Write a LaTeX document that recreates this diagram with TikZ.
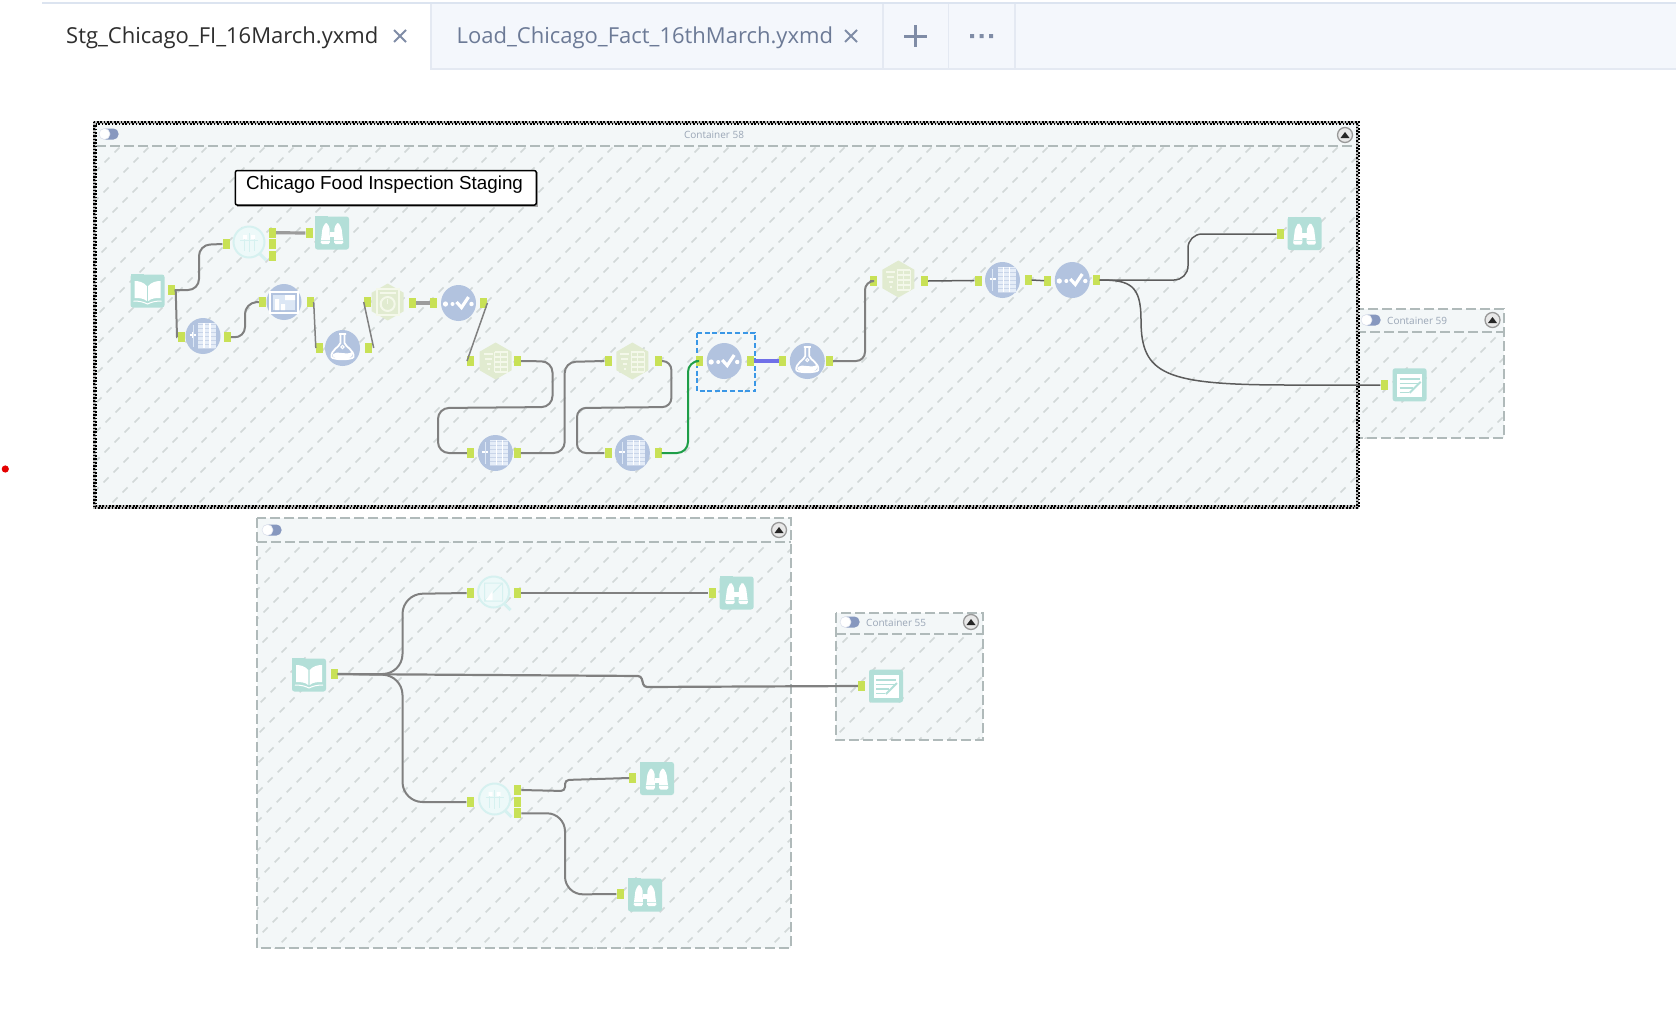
\documentclass[tikz,border=0pt]{standalone}
\usepackage{fontspec}
\setmainfont{Open Sans}
\newfontfamily\arialf{Liberation Sans}
\usetikzlibrary{shapes.geometric}
\definecolor{tabfill}{HTML}{F4F7FC}
\definecolor{tabline}{HTML}{E4E9F2}
\definecolor{tabtop}{HTML}{DCE4F0}
\definecolor{tabtext}{HTML}{6C7A96}
\definecolor{iconx}{HTML}{7F8CA6}
\definecolor{panel}{HTML}{F3F7F8}
\definecolor{hatchc}{HTML}{D2D8D8}
\definecolor{dashc}{HTML}{B0BABA}
\definecolor{teal}{HTML}{B3DFD8}
\definecolor{tealpale}{HTML}{D6F1F0}
\definecolor{tealwash}{HTML}{EDF9F9}
\definecolor{bluet}{HTML}{B2C3DF}
\definecolor{bluepale}{HTML}{DCE7F5}
\definecolor{hexg}{HTML}{E1EBD0}
\definecolor{hexw}{HTML}{F4F8EA}
\definecolor{portc}{HTML}{C8E156}
\definecolor{wirec}{HTML}{808080}
\definecolor{wirelight}{HTML}{9C9C9C}
\definecolor{wiredark}{HTML}{5C5C5C}
\definecolor{toggleb}{HTML}{8798BF}
\definecolor{titlec}{HTML}{9AA6B6}
\definecolor{wirepurp}{HTML}{7070E8}
\definecolor{wiregrn}{HTML}{1E9E48}
\definecolor{selblue}{HTML}{3A97E6}
\tikzset{
  portbox/.style={fill=portc,inner sep=0pt,minimum width=7,minimum height=10},
  wire/.style={draw=wirec,line width=2,rounded corners=11},
  wirethick/.style={draw=wirelight,line width=3.2},
  wirethin/.style={draw=wiredark,line width=1.5,rounded corners=14},
  wirepurple/.style={draw=wirepurp,line width=3.6},
  wiregreen/.style={draw=wiregrn,line width=2,rounded corners=11},
  hatchline/.style={draw=hatchc,line width=1.5,dash pattern=on 7pt off 7.14pt,dash phase=3.5pt},
  cdash/.style={draw=dashc,line width=2,dash pattern=on 10pt off 4pt},
  squaretool/.style={fill=teal,rounded corners=2.5,inner sep=0pt,minimum width=34,minimum height=33},
  magtool/.style={circle,fill=tealwash,draw=tealpale,line width=2,inner sep=0pt,minimum size=31},
  bluetool/.style={ellipse,fill=bluet,inner sep=0pt,minimum width=35,minimum height=36},
  hextool/.style={regular polygon,regular polygon sides=6,shape border rotate=30,fill=hexg,inner sep=0pt,minimum size=37},
  binocg/.pic={
    \fill[teal] (-17,-17) rectangle (-4,-14);
    \fill[white,rounded corners=1.5] (-11.5,11) -- (-9.5,-5) -- (-6,-11) -- (-2.5,-6) -- (-2,11) -- cycle;
    \fill[white,rounded corners=1.5] (11.5,11) -- (9.5,-5) -- (6,-11) -- (2.5,-6) -- (2,11) -- cycle;
    \fill[white] (-2.5,-1) rectangle (2.5,4);
    \draw[teal!70!white,line width=.8] (-11,7) -- (-2,7) (2,7) -- (11,7);
  },
  bookg/.pic={
    \fill[teal] (-17,-17) rectangle (-4,-14);
    \fill[white] (-.7,-5) .. controls (-4,-9) and (-9,-10) .. (-13,-10) -- (-13,7) .. controls (-9,7) and (-4,7) .. (-.7,10) -- cycle;
    \fill[white] (.7,-5) .. controls (4,-9) and (9,-10) .. (13,-10) -- (13,7) .. controls (9,7) and (4,7) .. (.7,10) -- cycle;
    \draw[white,line width=1] (-14,10) .. controls (-8,10) and (-4,11) .. (0,13) .. controls (4,11) and (8,10) .. (14,10);
  },
  noteg/.pic={
    \fill[white] (-12.5,-11) rectangle (12.5,12);
    \draw[teal,line width=1.6] (-10,-6) -- (10,-6) (-10,-1.5) -- (9,-1.5) (-10,3) -- (3,3) (-10,7.5) -- (-1,7.5);
    \draw[teal,line width=2] (0,8) -- (11,-3);
  },
  magag/.pic={
    \draw[tealpale,line width=3] (10,11) -- (17,18);
    \draw[tealpale,line width=1] (-9,-2) -- (9,-2) (-5,-7) -- (-5,9) (0,-9) -- (0,10) (5,-7) -- (5,9);
    \fill[white] (-6,-7) rectangle (-2,-3) (2,-7) rectangle (6,-3);
  },
  magbg/.pic={
    \draw[tealpale,line width=3] (10,11) -- (17,18);
    \draw[tealpale,line width=1] (-9,-9) rectangle (9,9) (-9,9) -- (9,-9);
    \fill[white] (-8,8) -- (-1,-1) -- (-1,8) -- cycle;
  },
  checkg/.pic={
    \fill[white] (-13,1) circle (2.6) (-6,1) circle (2) (13,1) circle (2.2);
    \draw[white,line width=3.2] (-2,-1) -- (3,4.5) -- (10,-6);
  },
  tableg/.pic={
    \fill[bluepale!75!white] (-5,-13) rectangle (13,12);
    \draw[white,line width=1.4] (-13,-1) -- (-7,-1) (-10,-4) -- (-10,2);
    \draw[bluepale,line width=1] (-10,-11) -- (-10,11);
    \foreach \r in {-12,-8,-4,0,4,8,12}{\draw[bluet!70!white,line width=.8] (-5,\r) -- (13,\r);}
    \foreach \c in {1,7}{\draw[white,line width=1.1] (\c,-13) -- (\c,12);}
  },
  chartg/.pic={
    \draw[white,line width=1.5] (-14,-10) rectangle (14,11);
    \fill[bluepale] (-11,-7) rectangle (11,8);
    \fill[white] (-9,8) rectangle (-5,-3) (-3,8) rectangle (1,2) (1,-7) rectangle (11,-2);
  },
  flaskg/.pic={
    \draw[white,line width=1.8,line join=round] (-3.5,-14) -- (3.5,-14) (-2,-14) -- (-2,-5) .. controls (-3,-1) and (-12,2) .. (-11,9) .. controls (-10,12) and (10,12) .. (11,9) .. controls (12,2) and (3,-1) .. (2,-5) -- (2,-14);
    \fill[white] (-9.5,6) .. controls (-5,2) and (3,8) .. (9.5,4) .. controls (11,8) and (9,11) .. (0,11) .. controls (-9,11) and (-11,8) .. (-9.5,6) -- cycle;
    \draw[white,line width=1] (0,-1) circle (1.6);
  },
  hextableg/.pic={
    \foreach \r in {-9,-4,1,6,11}{\draw[hexw,line width=1.5] (-1,\r) -- (12,\r);}
    \foreach \c in {-1,5,12}{\draw[hexw,line width=1.5] (\c,-9) -- (\c,11);}
    \draw[hexw,line width=2] (-12,-7) -- (-3,-7) (-11,-2) -- (-4,-2) (-9,3) -- (-5,3) (-8,8) -- (-6,8);
  },
  hexclockg/.pic={
    \draw[hexw,line width=2] (-11,-13) rectangle (11,13);
    \draw[hexw,line width=2] (0,2) circle (7);
    \draw[hexw,line width=1.4] (0,2) -- (0,-3) (-8,-9) -- (8,-9);
  },
  togglesw/.pic={
    \fill[toggleb,rounded corners=5] (-9.5,-5.5) rectangle (9.5,5.5);
    \fill[white,draw=toggleb!25!white,line width=.6] (-4.5,0) circle (5.5);
  },
  collapseic/.pic={
    \draw[gray!80!white,line width=1.3,fill=gray!18!white] (0,0) circle (7.5);
    \fill[black!85] (-4.5,3) -- (0,-3) -- (4.5,3) -- cycle;
  },
}
\newcommand{\hatcharea}[4]{%
  \begin{scope}
    \clip (#1,#2) rectangle (#3,#4);
    \foreach \k in {0,...,84}{%
      \pgfmathsetmacro\cc{6+29*\k}
      \draw[hatchline] (\cc,0) -- (0,\cc);
    }
  \end{scope}}
\newcommand{\tool}[5]{\node[#1] (#2) at (#4,#5) {}; \pic at (#2.center) {#3};}
\newcommand{\crossmark}[2]{\draw[iconx,line width=2] (#1-6,#2-6) -- (#1+6,#2+6) (#1-6,#2+6) -- (#1+6,#2-6);}
\begin{document}
\begin{tikzpicture}[x=1pt,y=-1pt]
\useasboundingbox (0,0) rectangle (1676,1026);
\fill[white] (0,0) rectangle (1676,1026);
% tab strip
\fill[tabfill] (431,4) rectangle (1676,69);
\draw[tabtop,line width=2] (42,3) -- (1676,3);
\draw[tabline,line width=1.6] (431,4) -- (431,69) -- (1676,69);
\draw[tabline,line width=1.4] (883,4) -- (883,69) (948.6,4) -- (948.6,69) (1015,4) -- (1015,69);
\node[anchor=west,inner sep=0pt,text=black!82] (tabone) at (66,38) {\fontsize{22}{25}\selectfont Stg\_Chicago\_FI\_16March.yxmd};
\crossmark{400}{36}
\node[anchor=west,inner sep=0pt,text=tabtext] (tabtwo) at (456.5,38) {\fontsize{22}{25}\selectfont Load\_Chicago\_Fact\_16thMarch.yxmd};
\crossmark{851}{36}
\draw[iconx,line width=3] (904,36) -- (927,36) (915.6,25) -- (915.6,47);
\fill[iconx] (970,34) rectangle (974,38) (979.5,34) rectangle (983.5,38) (989,34) rectangle (993,38);
\fill[red!90!black] (5.3,469) circle (3.6);
% container 59
\fill[panel] (1356,309) rectangle (1504,438);
\hatcharea{1356}{332}{1504}{438}
\draw[cdash] (1356,309) rectangle (1504,438);
\draw[cdash] (1356,332) -- (1504,332);
\pic at (1371,320) {togglesw};
\node[anchor=west,inner sep=0pt,text=titlec] (title59) at (1387,320.5) {\fontsize{10}{11}\selectfont Container 59};
\pic at (1492.5,320) {collapseic};
% container 55
\fill[panel] (836,612.5) rectangle (982.6,739.5);
\hatcharea{836}{634}{982.6}{739.5}
\draw[cdash] (836,612.5) rectangle (982.6,739.5);
\draw[cdash] (836,634) -- (982.6,634);
\pic at (850,622) {togglesw};
\node[anchor=west,inner sep=0pt,text=titlec] (title55) at (866,622.5) {\fontsize{10}{11}\selectfont Container 55};
\pic at (971,622) {collapseic};
% container lower
\fill[panel] (256.8,518.3) rectangle (790.5,948.3);
\hatcharea{256.8}{542.3}{790.5}{948.3}
\draw[cdash] (256.8,518.3) rectangle (790.5,948.3);
\draw[cdash] (256.8,542.3) -- (790.5,542.3);
\pic at (272,530) {togglesw};
\pic at (779,530) {collapseic};
% container top
\fill[panel] (94.5,122.5) rectangle (1357.5,507);
\hatcharea{94.5}{146}{1357.5}{507}
\draw[cdash] (96,146) -- (1356,146);
\draw[gray!55,line width=3.8] (94.5,122.5) rectangle (1357.5,507);
\draw[black,line width=2,dash pattern=on 1.7pt off 1.7pt] (93.5,121.5) rectangle (1358.5,508);
\draw[black,line width=2,dash pattern=on 1.7pt off 1.7pt,dash phase=1.7pt] (95.5,123.5) rectangle (1356.5,506);
\pic at (109,134) {togglesw};
\node[inner sep=0pt,text=titlec] (title58) at (714,134.5) {\fontsize{10}{11}\selectfont Container 58};
\pic at (1345,135) {collapseic};
% comment box
\fill[gray!70] (236.5,172) rectangle (538,206.5);
\node[draw=black,line width=1.5,rounded corners=2,fill=white,inner sep=0pt,minimum width=301,minimum height=34.5] (cbox) at (385.8,187.8) {};
\node[inner sep=0pt,text=black] (ctext) at (384.5,185) {\arialf\fontsize{18.8}{21}\selectfont Chicago Food Inspection Staging};
% selection
\draw[selblue,line width=1.9,dash pattern=on 5pt off 2.6pt] (697,332.7) rectangle (755.2,391);
% tools
\tool{squaretool}{book1}{bookg}{147.5}{291}
\tool{magtool}{mag1}{magag}{249}{242}
\tool{squaretool}{bin1}{binocg}{332}{233}
\tool{bluetool}{tbl1}{tableg}{203}{336}
\tool{bluetool}{cht1}{chartg}{284}{302}
\tool{bluetool}{fls1}{flaskg}{342.5}{348}
\tool{hextool}{hexc}{hexclockg}{387.7}{302}
\tool{bluetool}{chk1}{checkg}{458.5}{303}
\tool{hextool}{hex1}{hextableg}{495.6}{361}
\tool{bluetool}{tbl2}{tableg}{495.4}{453}
\tool{hextool}{hex2}{hextableg}{632.4}{361}
\tool{bluetool}{tbl3}{tableg}{632.4}{453}
\tool{bluetool}{chk2}{checkg}{724.2}{361}
\tool{bluetool}{fls2}{flaskg}{807.3}{361}
\tool{hextool}{hex3}{hextableg}{898.4}{279}
\tool{bluetool}{tbl4}{tableg}{1002.5}{280}
\tool{bluetool}{chk3}{checkg}{1072.3}{280}
\tool{squaretool}{bin2}{binocg}{1304.5}{233.5}
\tool{squaretool}{note1}{noteg}{1409.6}{384.8}
\tool{squaretool}{book2}{bookg}{309}{675}
\tool{magtool}{mag2}{magbg}{493.6}{592}
\tool{squaretool}{bin3}{binocg}{736.6}{593}
\tool{magtool}{mag3}{magag}{494.6}{799}
\tool{squaretool}{bin4}{binocg}{657}{778.5}
\tool{squaretool}{bin5}{binocg}{645}{895}
\tool{squaretool}{note2}{noteg}{886}{686}
% ports
\foreach \n/\x/\y in {book1o/171/290,mag1i/226/244,mag1a/272.5/232.7,mag1b/272.5/244.2,mag1c/272.5/255.7,bin1i/309/233,
  tbl1i/181/337,tbl1o/227.3/337,cht1i/262.5/302,cht1o/310/302,fls1i/319.5/348,fls1o/368/348,hexci/367.4/302,hexco/412.5/303,
  chk1i/433.6/303,chk1o/483.7/303,hex1i/470.7/361,hex1o/517.4/361,tbl2i/470.5/453,tbl2o/517.2/453,hex2i/608/361,hex2o/658.4/361,
  tbl3i/608/453,tbl3o/658/453,chk2i/699.4/361,chk2o/750/361,fls2i/782.4/361,fls2o/829.5/361,hex3i/873.5/281,hex3o/924.4/281,
  tbl4i/978/280.5,tbl4o/1028/280,chk3i/1047.8/280.7,chk3o/1096/280,bin2i/1280/234,note1i/1384/385,
  book2o/334/674,mag2i/470.4/593,mag2o/517.5/593,bin3i/712/593,mag3i/470/802,mag3a/517.6/790,mag3b/517.6/801.7,mag3c/517.6/813.3,
  bin4i/632.8/778,bin5i/620/894,note2i/861.6/686}{
  \node[portbox] (\n) at (\x,\y) {};
}
% connectors, top container
\draw[wire] (book1o.east) -- (199,290) -- (199,245) -- (mag1i.west);
\draw[wire,rounded corners=0] (book1o.east) ++(1,0) -- (177,337) -- (tbl1i.west);
\draw[wirethick] (mag1a.east) -- (bin1i.west);
\draw[wire] (tbl1o.east) -- (245,338) -- (245,303) -- (cht1i.west);
\draw[wire,rounded corners=0,line width=1.5] (cht1o.east) -- (fls1i.west);
\draw[wire,rounded corners=0,line width=1.5] (fls1o.east) ++(2,0) -- (hexci.west);
\draw[wirethick] (hexco.east) -- (chk1i.west);
\draw[wire,rounded corners=0,line width=1.5] (chk1o.east) -- (hex1i.west);
\draw[wire] (hex1o.east) -- (552.5,361.5) -- (552.5,407) -- (438,408) -- (438,453) -- (tbl2i.west);
\draw[wire] (tbl2o.east) -- (564.7,453) -- (564.7,362) -- (hex2i.west);
\draw[wire,rounded corners=9] (hex2o.east) -- (671.4,361) -- (671.4,407) -- (577,408) -- (577,453) -- (tbl3i.west);
\draw[wiregreen] (tbl3o.east) -- (688,453) -- (688,361) -- (chk2i.west);
\draw[wirepurple] (chk2o.east) -- (fls2i.west);
\draw[wire,rounded corners=9] (fls2o.east) -- (865,361) -- (865,281) -- (hex3i.west);
\draw[wirethin] (hex3o.east) -- (tbl4i.west);
\draw[wirethin] (tbl4o.east) -- (chk3i.west);
\draw[wirethin] (chk3o.east) -- (1188,280) -- (1188,234) -- (bin2i.west);
\draw[wirethin,rounded corners=0] (chk3o.east) .. controls (1130,280) and (1141,285) .. (1141,320) .. controls (1141,375) and (1165,385) .. (1290,385) -- (note1i.west);
% connectors, lower container
\draw[wire,rounded corners=20] (book2o.east) -- (402.5,674) -- (402.5,594) -- (mag2i.west);
\draw[wire,line width=2.2] (mag2o.east) -- (bin3i.west);
\draw[wire,line width=2.2,rounded corners=3] (book2o.east) -- (641,676) -- (644,687) -- (note2i.west);
\draw[wire,rounded corners=20] (book2o.east) -- (402.5,675) -- (402.5,802) -- (mag3i.west);
\draw[wire,rounded corners=4] (mag3a.east) -- (565,791) -- (565,780) -- (bin4i.west);
\draw[wire,rounded corners=18] (mag3c.east) -- (565,813.3) -- (565,894.5) -- (bin5i.west);
\end{tikzpicture}
\end{document}
